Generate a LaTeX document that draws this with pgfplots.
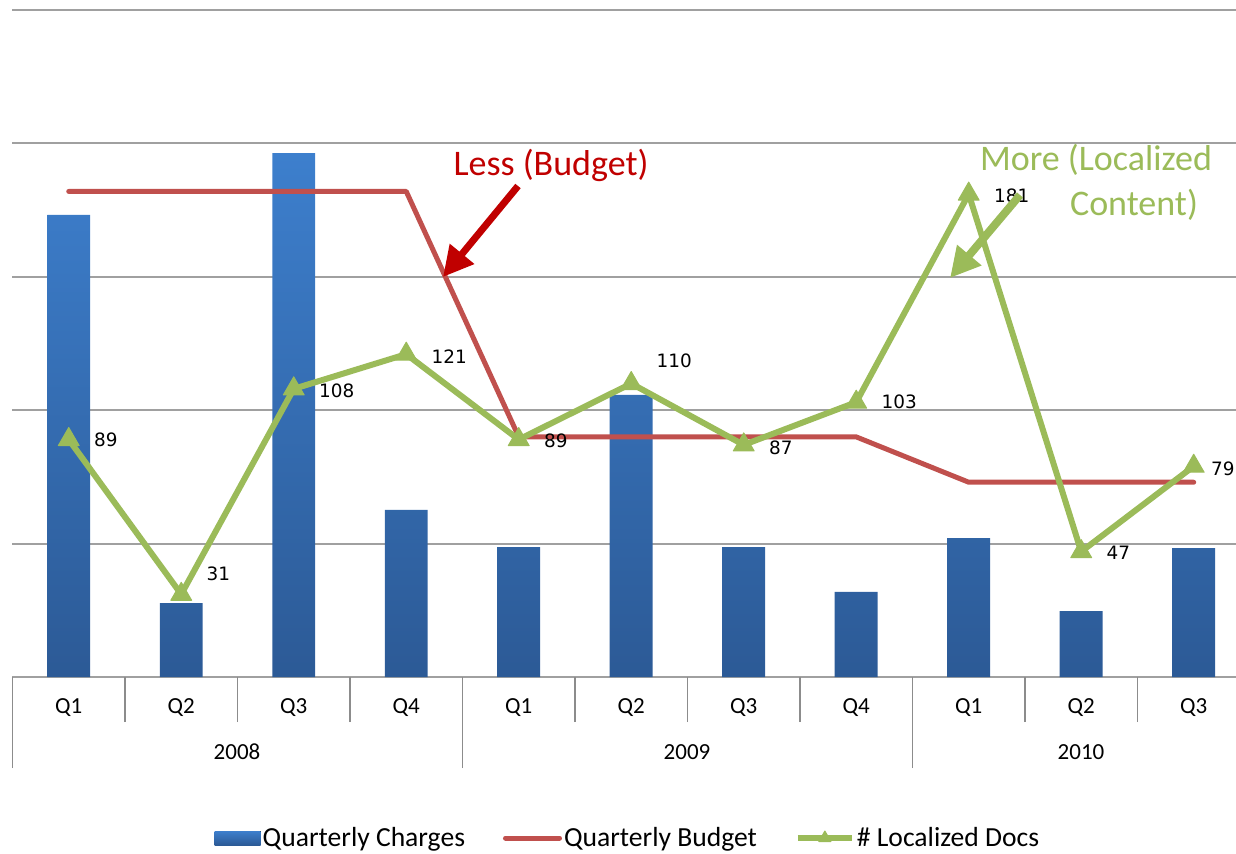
\documentclass[border=0pt]{standalone}
\usepackage{pgfplots}
\pgfplotsset{compat=1.18}
\usepackage{pgfplotstable}
\usepackage{fontspec}
\setmainfont{Carlito}
\newfontfamily\dejavu{DejaVu Sans}
\usetikzlibrary{arrows.meta}
\definecolor{barTop}{HTML}{3D7FCD}
\definecolor{barBot}{HTML}{2C5A96}
\definecolor{budget}{HTML}{C0504D}
\definecolor{docs}{HTML}{9BBB59}
\definecolor{annred}{HTML}{C00000}
\definecolor{gridgray}{HTML}{A0A0A0}
\definecolor{tickgray}{HTML}{8C8C8C}

\pgfplotsset{
  linelegend/.style={
    legend image code/.code={
      \draw[mark repeat=2,mark phase=2,##1,mark size=3.5pt] plot coordinates {(0pt,0pt) (13.5pt,0pt) (27pt,0pt)};
    }
  }
}

\pgfplotstableread{
x charges budget docs dy dx
0 173.2 182 89 0 12.5
1 27.7 182 31 10 12.5
2 196.4 182 108 -1 12.5
3 62.6 182 121 -1 12.5
4 48.7 90 89 -0.5 12.5
5 105.7 90 110 11.5 12.5
6 48.7 90 87 -1.5 12.5
7 31.9 90 103 0 12.5
8 52.1 73 181 -1 12.5
9 24.7 73 47 -0.5 12.5
10 48.3 73 79 -1.5 8.5
}\datatable

\begin{document}
\begin{tikzpicture}
\begin{axis}[
  at={(6.25pt,88pt)}, anchor=south west,
  scale only axis, width=611.75pt, height=333.5pt,
  xmin=-0.5, xmax=10.376, ymin=0, ymax=250,
  clip=false,
  axis line style={draw=none},
  xtick={0,...,10},
  xticklabels={Q1,Q2,Q3,Q4,Q1,Q2,Q3,Q4,Q1,Q2,Q3},
  xtick pos=bottom, ytick pos=left,
  major tick length=0pt,
  minor xtick={-0.5,0.5,...,10.5},
  minor tick length=22.5pt,
  tick align=outside,
  extra x ticks={-0.5,3.5,7.5},
  extra x tick labels={},
  extra x tick style={major tick length=45.5pt, tick align=outside},
  x tick style={draw=tickgray, line width=0.7pt},
  ytick={0,50,...,250}, yticklabels={},
  ymajorgrids, grid style={draw=gridgray, line width=1pt},
  xticklabel style={font=\fontsize{11.5}{13}\selectfont, anchor=center, yshift=-15.5pt},
  legend columns=3,
  legend cell align=left,
  legend style={at={(0.503,-0.2414)}, anchor=center, draw=none, fill=none,
    font=\fontsize{13.8}{16}\selectfont,
    /tikz/every odd column/.append style={column sep=0pt},
    /tikz/every even column/.append style={column sep=18pt},
    nodes={inner sep=1pt}},
]
\addplot[ybar, bar width=0.382, draw=none, top color=barTop, bottom color=barBot,
  legend image code/.code={\fill[top color=barTop,bottom color=barBot] (0pt,-3.5pt) rectangle (23pt,3.5pt);}]
  table[x=x,y=charges]{\datatable};
\addlegendentry{Quarterly Charges}
\addplot[budget, line width=2.5pt, line cap=round, line join=round, no markers, linelegend]
  table[x=x,y=budget]{\datatable};
\addlegendentry{Quarterly Budget}
\addplot[docs, line width=3pt, line join=round, mark=triangle*, mark size=6pt,
  mark options={solid, line width=0.5pt, fill=docs, draw=docs},
  linelegend,
  point meta=explicit symbolic,
  visualization depends on={\thisrow{dy} \as \dy},
  visualization depends on={\thisrow{dx} \as \dx},
  nodes near coords,
  nodes near coords style={text=black, font=\dejavu\fontsize{9.2}{11}\selectfont,
    anchor=west, inner sep=0pt, xshift=\dx pt, yshift=\dy pt}]
  table[x=x,y=docs,meta=docs]{\datatable};
\addlegendentry{\# Localized Docs}
\end{axis}
\begin{scope}[x=0.5pt, y=-0.5pt, shift={(0pt,426.5pt)}]
\draw[annred, line width=3.5pt, -{Triangle[length=15pt,width=15pt]}] (518,186) -- (443,277);
\node[annred, font=\fontsize{18}{20}\selectfont] at (551,165) {Less (Budget)};
\draw[docs, line width=4pt, -{Triangle[length=15pt,width=15pt]}] (1020,195) -- (950,278);
\node[docs, font=\fontsize{18}{20}\selectfont] at (1096,160) {More (Localized};
\node[docs, font=\fontsize{18}{20}\selectfont] at (1134,205) {Content)};
\node[font=\fontsize{11.5}{13}\selectfont] at (237,752) {2008};
\node[font=\fontsize{11.5}{13}\selectfont] at (687,752) {2009};
\node[font=\fontsize{11.5}{13}\selectfont] at (1081,752) {2010};
\end{scope}
\pgfresetboundingbox
\useasboundingbox (0pt,0pt) rectangle (618pt,426.5pt);
\end{tikzpicture}
\end{document}
